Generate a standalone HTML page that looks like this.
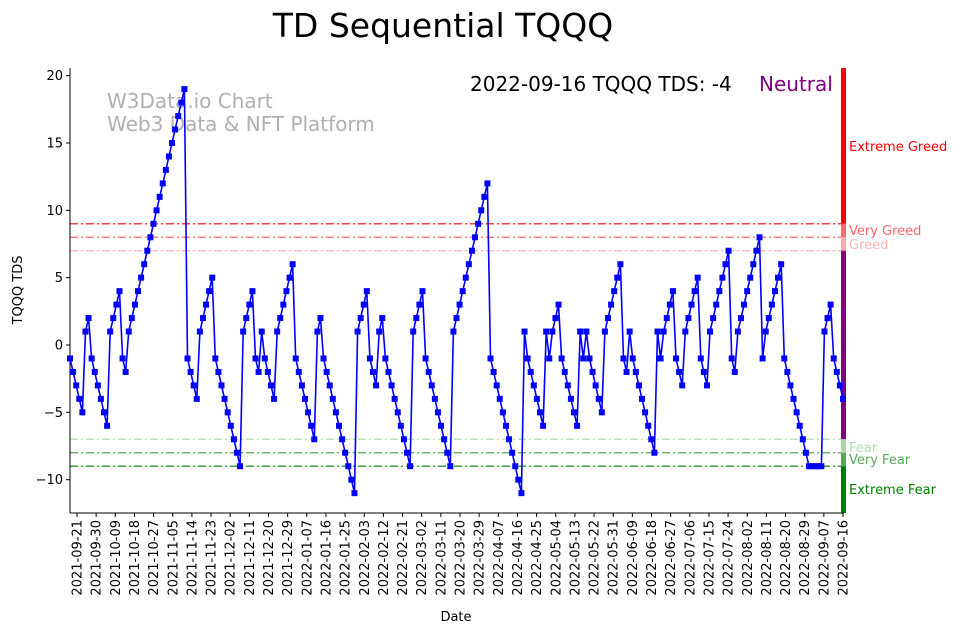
<!DOCTYPE html>
<html><head><meta charset="utf-8">
<style>
body{margin:0;background:#fff;}
svg{display:block;font-family:"DejaVu Sans","Liberation Sans",sans-serif;}
</style></head>
<body>
<svg id="chart" width="962" height="633" xmlns="http://www.w3.org/2000/svg">
<rect width="962" height="633" fill="#fff"/>
<text x="443" y="37" font-size="33" text-anchor="middle">TD Sequential TQQQ</text>
<text x="107" y="108" font-size="20" fill="#b0b0b0">W3Data.io Chart</text>
<text x="107" y="131" font-size="20" fill="#b0b0b0">Web3 Data &amp; NFT Platform</text>
<text x="470" y="91" font-size="20" fill="#000">2022-09-16 TQQQ TDS: -4</text>
<text x="759" y="91" font-size="20" fill="#800080">Neutral</text>
<text x="456" y="621" font-size="13" text-anchor="middle">Date</text>
<text x="22" y="290" font-size="13" text-anchor="middle" transform="rotate(-90 22 290)">TQQQ TDS</text>
<g id="bands"></g>
<g id="refs"></g>
<g id="axes"></g>
<g id="series"></g>
</svg>
<script>
const values = [
-1,-2,-3,-4,-5,1,2,-1,-2,-3,-4,-5,-6,1,2,3,4,-1,-2,1,2,3,4,5,6,7,8,9,10,11,12,13,14,15,16,17,18,19,-1,-2,-3,-4,
1,2,3,4,5,-1,-2,-3,-4,-5,-6,-7,-8,-9,1,2,3,4,-1,-2,1,-1,-2,-3,-4,1,2,3,4,5,6,-1,-2,-3,-4,-5,-6,-7,1,2,
-1,-2,-3,-4,-5,-6,-7,-8,-9,-10,-11,1,2,3,4,-1,-2,-3,1,2,-1,-2,-3,-4,-5,-6,-7,-8,-9,1,2,3,4,-1,-2,-3,-4,-5,-6,-7,-8,-9,
1,2,3,4,5,6,7,8,9,10,11,12,-1,-2,-3,-4,-5,-6,-7,-8,-9,-10,-11,1,-1,-2,-3,-4,-5,-6,1,-1,1,2,3,-1,-2,-3,-4,-5,-6,
1,-1,1,-1,-2,-3,-4,-5,1,2,3,4,5,6,-1,-2,1,-1,-2,-3,-4,-5,-6,-7,-8,1,-1,1,2,3,4,-1,-2,-3,1,2,3,4,5,
-1,-2,-3,1,2,3,4,5,6,7,-1,-2,1,2,3,4,5,6,7,8,-1,1,2,3,4,5,6,-1,-2,-3,-4,-5,-6,-7,-8,-9,-9,-9,-9,-9,1,2,3,-1,-2,-3,-4
];
const yTicks = [20,15,10,5,0,-5,-10];
const startDate = "2021-09-21";
const tickStepDays = 9;
const tickCount = 41;
const refLevels = [9,8,7,-7,-8,-9];
const refColors = ["#ff0000","#ff6666","#ffb3b3","#b3dcb3","#55aa55","#008000"];
const refLabels = ["Extreme Greed","Very Greed","Greed","Fear","Very Fear","Extreme Fear"];

const NS="http://www.w3.org/2000/svg";
const X0=70,X1=843,Y0=68,Y1=513;
const y=v=>345-v*13.467;
const xi=i=>X0+i*(X1-X0)/(values.length-1);
const dayX=d=>77+d*(843-77)/360;
function mk(tag,attrs,parent){const e=document.createElementNS(NS,tag);for(const k in attrs)e.setAttribute(k,attrs[k]);parent.appendChild(e);return e;}
const bands=document.getElementById('bands'),refs=document.getElementById('refs'),axes=document.getElementById('axes'),series=document.getElementById('series');

const segs=[[Y0,y(9),"#ff0000"],[y(9),y(8),"#ff6666"],[y(8),y(7),"#ffaaaa"],[y(7),y(-7),"#800080"],[y(-7),y(-8),"#aad8aa"],[y(-8),y(-9),"#55aa55"],[y(-9),Y1,"#008000"]];
segs.forEach(s=>{const r=mk('rect',{x:841,y:s[0],width:5,height:s[1]-s[0],fill:s[2]},bands);

});

refLevels.forEach((lv,i)=>{
const l=mk('line',{x1:X0,x2:841,y1:y(lv),y2:y(lv),stroke:refColors[i],'stroke-width':1.2,'stroke-dasharray':'8 3 2 3'},refs);


});
const labelY=[146,230,244,447,459,489];
refLabels.forEach((t,i)=>{
const tx=mk('text',{x:849,y:labelY[i]+5,'font-size':13,fill:refColors[i]},refs);tx.textContent=t;


});

const ax=mk('line',{x1:X0,x2:X0,y1:Y0,y2:Y1,stroke:'#000','stroke-width':1},axes);


const bx=mk('line',{x1:X0,x2:X1+1,y1:Y1,y2:Y1,stroke:'#000','stroke-width':1},axes);


yTicks.forEach(v=>{
mk('line',{x1:X0-4,x2:X0,y1:y(v),y2:y(v),stroke:'#000'},axes);
const t=mk('text',{x:X0-7,y:y(v)+4.5,'font-size':13,'text-anchor':'end'},axes);t.textContent=v<0?'\u2212'+(-v):v;


});
const sd=new Date(startDate+"T00:00:00Z");
for(let k=0;k<tickCount;k++){
const d=new Date(sd.getTime()+k*tickStepDays*86400000);
const s=d.toISOString().slice(0,10);const xx=dayX(k*tickStepDays);
mk('line',{x1:xx,x2:xx,y1:Y1,y2:Y1+4,stroke:'#000'},axes);
const t=mk('text',{x:xx+4.5,y:Y1+7,'font-size':13,'text-anchor':'end',transform:`rotate(-90 ${xx+4.5} ${Y1+7})`},axes);t.textContent=s;


}

const pts=values.map((v,i)=>xi(i).toFixed(1)+','+y(v).toFixed(1)).join(' ');
const pl=mk('polyline',{points:pts,fill:'none',stroke:'#0000ff','stroke-width':1.6},series);


values.forEach((v,i)=>{
const r=mk('rect',{x:xi(i)-3,y:y(v)-3,width:6,height:6,fill:'#0000ff'},series);


});
</script>
</body></html>
